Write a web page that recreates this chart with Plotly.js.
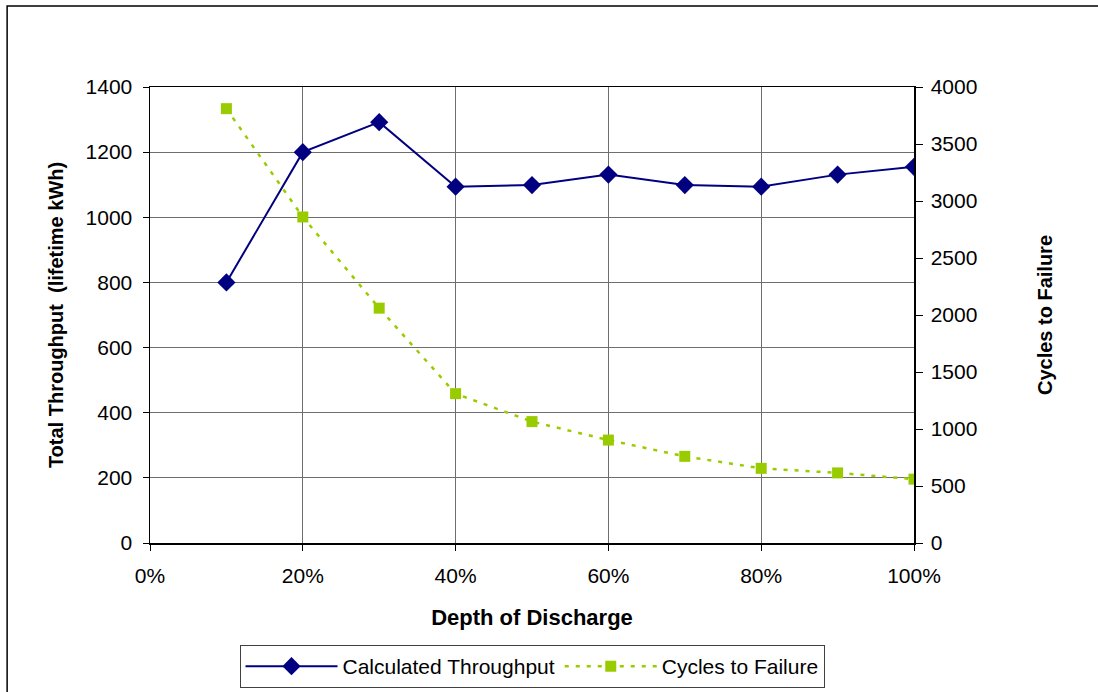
<!DOCTYPE html>
<html>
<head>
<meta charset="utf-8">
<script src="https://cdn.plot.ly/plotly-3.0.1.min.js"></script>
<style>html,body{margin:0;padding:0;background:#fff;}#chart{width:1098px;height:692px;}</style>
</head>
<body>
<div id="chart"></div>
<script>
const depthOfDischarge = [0.1, 0.2, 0.3, 0.4, 0.5, 0.6, 0.7, 0.8, 0.9, 1.0];
const calculatedThroughput = [800, 1200, 1292, 1094, 1099, 1131, 1099, 1094, 1131, 1155];
const cyclesToFailure = [3810, 2860, 2060, 1310, 1065, 903, 760, 655, 615, 560];
const seriesNames = ["Calculated Throughput", "Cycles to Failure"];

const fontFam = "Liberation Sans, Arial, sans-serif";

const traces = [
  {
    x: depthOfDischarge, y: calculatedThroughput, name: seriesNames[0],
    type: "scatter", mode: "lines+markers",
    line: {color: "#000080", width: 2},
    marker: {symbol: "diamond", size: 14, color: "#000080"},
    yaxis: "y"
  },
  {
    x: depthOfDischarge, y: cyclesToFailure, name: seriesNames[1],
    type: "scatter", mode: "lines+markers",
    line: {color: "#99CC00", width: 2.5, dash: "4px,7px"},
    marker: {symbol: "square", size: 11, color: "#99CC00"},
    yaxis: "y2"
  }
];

const layout = {
  width: 1098, height: 692,
  margin: {l: 150, r: 184, t: 87, b: 149, autoexpand: false},
  paper_bgcolor: "#ffffff", plot_bgcolor: "#ffffff",
  font: {family: fontFam, size: 21, color: "#000"},
  showlegend: true,
  legend: {
    orientation: "h", x: 0.5, xanchor: "center", y: -0.2237, yanchor: "top",
    bordercolor: "#404040", borderwidth: 1, font: {size: 21, family: fontFam},
    itemwidth: 92
  },
  xaxis: {
    range: [0, 1], tickvals: [0, 0.2, 0.4, 0.6, 0.8, 1.0], tickformat: ".0%",
    showgrid: true, gridcolor: "#6e6e6e", gridwidth: 1,
    showline: true, linecolor: "#000", linewidth: 1.5, mirror: true,
    ticks: "outside", ticklen: 6, tickcolor: "#000", ticklabelstandoff: 7,
    zeroline: false, fixedrange: true, automargin: false,
    tickfont: {size: 21},
    title: {text: "<b>Depth of Discharge</b>", font: {size: 22}, standoff: 24}
  },
  yaxis: {
    range: [0, 1400], dtick: 200,
    showgrid: true, gridcolor: "#6e6e6e", gridwidth: 1,
    showline: true, linecolor: "#000", linewidth: 1.5,
    ticks: "outside", ticklen: 6, tickcolor: "#000", ticklabelstandoff: 6,
    zeroline: false, tickfont: {size: 21}, automargin: false,
    title: {text: "<b>Total Throughput  (lifetime kWh)</b>", font: {size: 20}, standoff: 16}
  },
  yaxis2: {
    range: [0, 4000], dtick: 500, overlaying: "y", side: "right",
    showgrid: false, showline: true, linecolor: "#000", linewidth: 1.5,
    ticks: "outside", ticklen: 7, tickcolor: "#000", ticklabelstandoff: 4,
    zeroline: false, tickfont: {size: 21}, automargin: false,
    title: {text: "<b>Cycles to Failure</b>", font: {size: 20}, standoff: 61}
  },
  shapes: [
    {type: "rect", xref: "paper", yref: "paper",
     x0: -0.187, x1: 1.4, y0: -0.5, y1: 1.1776,
     line: {color: "#000", width: 1.5}, fillcolor: "rgba(0,0,0,0)", layer: "below"}
  ]
};

Plotly.newPlot("chart", traces, layout, {displayModeBar: false, staticPlot: true});
</script>
</body>
</html>
